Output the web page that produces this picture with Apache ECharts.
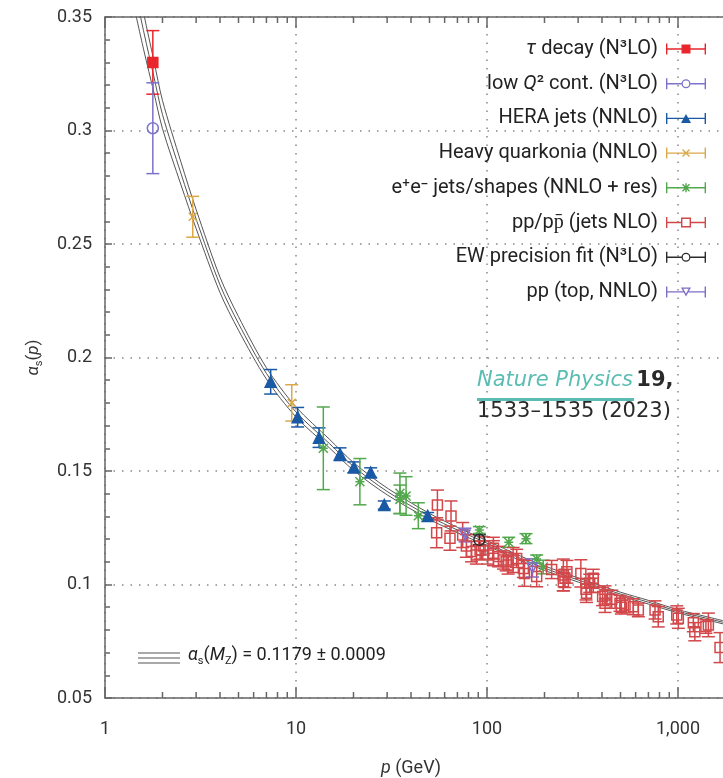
<!DOCTYPE html>
<html>
<head>
<meta charset="utf-8">
<script src="https://cdn.jsdelivr.net/npm/echarts@6/dist/echarts.min.js"></script>
<style>
  html, body { margin: 0; padding: 0; background: #fff; }
  #chart { width: 723px; height: 778px; }
</style>
</head>
<body>
<div id="chart"></div>
<script>
// running coupling curve (central value and band edges)
const curveP  = [1.45, 1.6, 1.8, 2, 2.5, 3, 4, 5, 7, 10, 15, 20, 30, 50, 70, 100, 150, 200, 300, 500, 700, 1000, 1400, 1750];
const curveMid = [0.360, 0.343, 0.324, 0.307, 0.281, 0.261, 0.232, 0.215, 0.193, 0.176, 0.162, 0.152, 0.141, 0.130, 0.1240, 0.1182, 0.1115, 0.1072, 0.1020, 0.0958, 0.0922, 0.0882, 0.0852, 0.0832];
const curveHi  = [0.369, 0.351, 0.331, 0.3132, 0.286, 0.2652, 0.2354, 0.218, 0.1955, 0.1782, 0.1639, 0.1537, 0.1425, 0.1313, 0.1252, 0.1193, 0.1125, 0.1082, 0.1029, 0.0966, 0.0930, 0.0889, 0.0859, 0.0839];
const curveLo  = [0.351, 0.335, 0.317, 0.3008, 0.276, 0.2568, 0.2286, 0.212, 0.1905, 0.1738, 0.1601, 0.1503, 0.1395, 0.1287, 0.1228, 0.1171, 0.1105, 0.1062, 0.1011, 0.0950, 0.0914, 0.0875, 0.0845, 0.0825];

// measurements: scale p (GeV), alpha_s, half error
const tauP = [1.78];
const tauV = [0.330];
const tauE = [0.014];

const lowQP = [1.78];
const lowQV = [0.301];
const lowQE = [0.020];

const heraP = [7.37, 10.2, 13.2, 17.0, 20.1, 24.6, 29.0, 48.9];
const heraV = [0.1893, 0.1737, 0.1647, 0.1574, 0.1516, 0.1493, 0.1350, 0.1302];
const heraE = [0.0054, 0.0043, 0.0043, 0.0028, 0.0024, 0.0021, 0.0018, 0.0015];

const quarkP = [2.88, 9.5];
const quarkV = [0.262, 0.180];
const quarkE = [0.009, 0.008];

const eeP = [13.9, 21.6, 35.0, 35.0, 37.7, 43.7, 91.2, 130, 160, 182, 197];
const eeV = [0.160, 0.1453, 0.1402, 0.1375, 0.139, 0.1303, 0.124, 0.1186, 0.1202, 0.1112, 0.1077];
const eeE = [0.0182, 0.0102, 0.0089, 0.0063, 0.0085, 0.0057, 0.0015, 0.0022, 0.0022, 0.0018, 0.003];

const jetsP = [54.5, 55, 64, 64.8, 74.6, 78, 83, 88, 92, 96, 101, 108, 108, 115, 122, 126, 129, 137, 143, 155, 157, 182, 218,
  251, 251, 256, 262, 310, 330, 332, 345, 360, 360, 403, 415, 415, 450, 497, 505, 528, 583, 620, 758, 788, 985, 1004, 1203, 1225, 1400, 1442, 1660];
const jetsV = [0.1228, 0.135, 0.1204, 0.1302, 0.1218, 0.1170, 0.1145, 0.1130, 0.1152, 0.1170, 0.1130, 0.1160, 0.1138, 0.1123, 0.1108, 0.1100, 0.1086, 0.1108, 0.1115, 0.1071, 0.1049, 0.1035, 0.1066,
  0.1042, 0.1012, 0.1027, 0.1056, 0.1049, 0.0979, 0.0961, 0.1005, 0.1027, 0.1005, 0.0947, 0.0954, 0.0917, 0.0935, 0.0917, 0.0900, 0.0910, 0.0902, 0.0888, 0.0888, 0.0858, 0.0866, 0.0851, 0.0832, 0.0792, 0.0815, 0.0822, 0.0722];
const jetsE = [0.0066, 0.0066, 0.0053, 0.0066, 0.0055, 0.005, 0.0045, 0.004, 0.004, 0.004, 0.004, 0.0048, 0.0055, 0.0045, 0.004, 0.004, 0.004, 0.0055, 0.004, 0.004, 0.0057, 0.0045, 0.004,
  0.007, 0.004, 0.004, 0.005, 0.006, 0.0047, 0.004, 0.004, 0.004, 0.004, 0.004, 0.004, 0.004, 0.004, 0.0035, 0.003, 0.0035, 0.0035, 0.003, 0.004, 0.0045, 0.004, 0.0044, 0.004, 0.004, 0.003, 0.0052, 0.0066];

const ewP = [91.2];
const ewV = [0.1197];
const ewE = [0.0022];

const topP = [76.7, 173];
const topV = [0.1218, 0.1073];
const topE = [0.003, 0.004];

// axis ticks
const minorTicks = [2, 3, 4, 5, 6, 7, 8, 9, 20, 30, 40, 50, 60, 70, 80, 90, 200, 300, 400, 500, 600, 700, 800, 900, 2000];

const FONT = "Roboto";
const AXIS = "#666";

// legend icons: error bar + marker, box 40x11
const CAPS = "M0,0 h1.4 v11 h-1.4 Z M38.6,0 h1.4 v11 h-1.4 Z ";
const BAR = "M0,4.8 h40 v1.4 h-40 Z ";
const splitBar = (a, b) => `M0,4.8 h${a} v1.4 h-${a} Z M${b},4.8 h${40 - b} v1.4 h-${40 - b} Z `;
const XMARK = "M16,2.5 L17,1.5 L24,8.5 L23,9.5 Z M23,1.5 L24,2.5 L17,9.5 L16,8.5 Z ";
const icons = {
  tau: "path://" + CAPS + BAR + "M15.5,1 h9 v9 h-9 Z",
  lowq: "path://" + CAPS + splitBar(15.5, 24.5) + "M15.5,5.5 A4.5,4.5 0 1,1 24.5,5.5 A4.5,4.5 0 1,1 15.5,5.5 Z M16.8,5.5 A3.2,3.2 0 1,0 23.2,5.5 A3.2,3.2 0 1,0 16.8,5.5 Z",
  hera: "path://" + CAPS + BAR + "M20,1 L25,10 L15,10 Z",
  quark: "path://" + CAPS + BAR + XMARK,
  ee: "path://" + CAPS + BAR + XMARK + "M19.3,1 h1.4 v9 h-1.4 Z",
  jets: "path://" + CAPS + splitBar(15, 25) + "M15,0.5 h10 v10 h-10 Z M16.4,1.9 v7.2 h7.2 v-7.2 Z",
  top: "path://" + CAPS + splitBar(17.5, 22.5) + "M15,1 L25,1 L20,10 Z M17.3,2.3 L20,7.3 L22.7,2.3 Z"
};

const groups = [
  { name: "tau", label: "{i|τ} decay (N³LO)", color: "#e8262b", P: tauP, V: tauV, E: tauE,
    symbol: "rect", size: 10, fill: "#e8262b", icon: icons.tau },
  { name: "lowq", label: "low {i|Q}² cont. (N³LO)", color: "#7d72c9", P: lowQP, V: lowQV, E: lowQE,
    symbol: "circle", size: 11, fill: "transparent", icon: icons.lowq },
  { name: "hera", label: "HERA jets (NNLO)", color: "#1a5aa5", P: heraP, V: heraV, E: heraE,
    symbol: "triangle", size: 11, fill: "#1a5aa5", icon: icons.hera },
  { name: "quark", label: "Heavy quarkonia (NNLO)", color: "#dba84a", P: quarkP, V: quarkV, E: quarkE,
    symbol: "path://M0,0 L10,10 M10,0 L0,10", size: 8, fill: "transparent", icon: icons.quark },
  { name: "ee", label: "e⁺e⁻ jets/shapes (NNLO + res)", color: "#52a84c", P: eeP, V: eeV, E: eeE,
    symbol: "path://M0,0 L10,10 M10,0 L0,10 M5,0 L5,10 M0,5 L10,5", size: 9, fill: "transparent", icon: icons.ee },
  { name: "jets", label: "pp/pp̄ (jets NLO)", color: "#d2474a", P: jetsP, V: jetsV, E: jetsE,
    symbol: "rect", size: 10, fill: "transparent", icon: icons.jets },
  { name: "ew", label: "EW precision fit (N³LO)", color: "#2b2b2b", P: ewP, V: ewV, E: ewE,
    symbol: "circle", size: 11, fill: "transparent", icon: icons.lowq },
  { name: "top", label: "pp (top, NNLO)", color: "#7f6dc8", P: topP, V: topV, E: topE,
    symbol: "triangle", rotate: 180, size: 10, fill: "transparent", icon: icons.top }
];

function errorBars(g) {
  return {
    type: "custom",
    name: g.name,
    z: 3,
    silent: true,
    data: g.P.map((p, i) => [p, g.V[i] - g.E[i], g.V[i] + g.E[i]]),
    encode: { x: 0, y: [1, 2] },
    renderItem(params, api) {
      const lo = api.coord([api.value(0), api.value(1)]);
      const hi = api.coord([api.value(0), api.value(2)]);
      const hw = 6.5;
      const style = { stroke: g.color, lineWidth: 1.5, fill: null };
      return {
        type: "group",
        children: [
          { type: "line", shape: { x1: lo[0], y1: lo[1], x2: hi[0], y2: hi[1] }, style },
          { type: "line", shape: { x1: lo[0] - hw, y1: lo[1], x2: lo[0] + hw, y2: lo[1] }, style },
          { type: "line", shape: { x1: hi[0] - hw, y1: hi[1], x2: hi[0] + hw, y2: hi[1] }, style }
        ]
      };
    }
  };
}

function markers(g) {
  return {
    type: "scatter",
    name: g.name,
    z: 4,
    silent: true,
    symbol: g.symbol,
    symbolSize: g.size,
    symbolRotate: g.rotate || 0,
    data: g.P.map((p, i) => [p, g.V[i]]),
    itemStyle: { color: g.fill, borderColor: g.color, borderWidth: 1.5, opacity: 1 }
  };
}

function curveLine(vals) {
  return {
    type: "line",
    z: 2,
    silent: true,
    smooth: 0.3,
    showSymbol: false,
    data: curveP.map((p, i) => [p, vals[i]]),
    lineStyle: { color: "#555", width: 1 }
  };
}

function minorTickSeries() {
  return {
    type: "custom",
    z: 5,
    silent: true,
    clip: false,
    data: minorTicks.map(v => [v]),
    encode: { x: 0 },
    renderItem(params, api) {
      const b = api.coord([api.value(0), 0.05]);
      const t = api.coord([api.value(0), 0.35]);
      const style = { stroke: AXIS, lineWidth: 1.5 };
      return {
        type: "group",
        children: [
          { type: "line", shape: { x1: b[0], y1: b[1], x2: b[0], y2: b[1] - 6 }, style },
          { type: "line", shape: { x1: t[0], y1: t[1], x2: t[0], y2: t[1] + 6 }, style }
        ]
      };
    }
  };
}

const labelMap = {};
groups.forEach(g => { labelMap[g.name] = g.label; });

const chart = echarts.init(document.getElementById("chart"));
const dotted = { color: "#888", type: [1.5, 7], width: 1.5 };

const option = {
  animation: false,
  backgroundColor: "#fff",
  // plot runs past the right edge of the picture, as in the original crop
  grid: { left: 105, right: -146, top: 17, bottom: 80, outerBoundsMode: "none", containLabel: false },
  xAxis: [
    {
      type: "log", logBase: 10, min: 1, max: 10000, position: "bottom",
      axisLine: { lineStyle: { color: AXIS, width: 1.5 } },
      axisTick: { inside: true, length: 11, lineStyle: { color: AXIS, width: 1.5 } },
      axisLabel: { fontFamily: FONT, fontSize: 18, color: "#333", margin: 22,
        formatter: v => Number(v).toLocaleString("en-US") },
      splitLine: { show: true, lineStyle: dotted },
      name: "{i|p} (GeV)", nameLocation: "middle", nameGap: 61,
      nameTextStyle: { fontFamily: FONT, fontSize: 18, color: "#333", padding: [0, 152, 0, 0],
        rich: { i: { fontFamily: FONT, fontSize: 18, fontStyle: "italic", color: "#333" } } }
    },
    {
      type: "log", logBase: 10, min: 1, max: 10000, position: "top",
      axisLine: { show: true, lineStyle: { color: AXIS, width: 1.5 } },
      axisTick: { inside: true, length: 11, lineStyle: { color: AXIS, width: 1.5 } },
      axisLabel: { show: false },
      splitLine: { show: false }
    }
  ],
  yAxis: {
    type: "value", min: 0.05, max: 0.35, interval: 0.05,
    axisLine: { show: true, lineStyle: { color: AXIS, width: 1.5 } },
    axisTick: { inside: true, length: 7, lineStyle: { color: AXIS, width: 1.5 } },
    minorTick: { show: true, splitNumber: 5, length: 5, lineStyle: { color: AXIS, width: 1.5 } },
    axisLabel: { fontFamily: FONT, fontSize: 18, color: "#333", margin: 13 },
    splitLine: { show: true, lineStyle: dotted },
    name: "{i|α}{s|s}({i|p})", nameLocation: "middle", nameGap: 60,
    nameTextStyle: { fontFamily: FONT, fontSize: 17, color: "#333", lineHeight: 22,
      rich: {
        i: { fontFamily: FONT, fontSize: 17, fontStyle: "italic", color: "#333", lineHeight: 22 },
        s: { fontFamily: FONT, fontSize: 11, color: "#333", lineHeight: 11, verticalAlign: "bottom" }
      } }
  },
  legend: {
    orient: "vertical", right: 12, top: 33, align: "right",
    itemWidth: 40, itemHeight: 11, itemGap: 12.7, selectedMode: false,
    textStyle: { fontFamily: FONT, fontSize: 20, color: "#222", lineHeight: 22, padding: [0, 3, 0, 0],
      rich: { i: { fontFamily: FONT, fontSize: 20, fontStyle: "italic", color: "#222", lineHeight: 22 } } },
    formatter: n => labelMap[n],
    data: groups.map(g => ({ name: g.name, icon: g.icon, itemStyle: { color: g.color, borderWidth: 0 } }))
  },
  graphic: [
    {
      type: "text", left: 477, top: 370, z: 10,
      style: {
        text: "{n|Nature Physics} {b|19,}\n{t|1533–1535 (2023)}",
        rich: {
          n: { fontFamily: "DejaVu Sans", fontSize: 21, fontStyle: "italic", fill: "#5bbdb2", lineHeight: 31 },
          b: { fontFamily: "DejaVu Sans", fontSize: 21, fontWeight: "bold", fill: "#2a2a2a", lineHeight: 31 },
          t: { fontFamily: "DejaVu Sans", fontSize: 21, fill: "#2a2a2a", lineHeight: 31 }
        }
      }
    },
    { type: "rect", left: 477, top: 398, z: 10, shape: { width: 157, height: 3 }, style: { fill: "#5bbdb2" } },
    { type: "line", z: 10, shape: { x1: 138, y1: 653, x2: 180, y2: 653 }, style: { stroke: "#555", lineWidth: 1.2 } },
    { type: "line", z: 10, shape: { x1: 138, y1: 658, x2: 180, y2: 658 }, style: { stroke: "#555", lineWidth: 1.2 } },
    { type: "line", z: 10, shape: { x1: 138, y1: 663, x2: 180, y2: 663 }, style: { stroke: "#555", lineWidth: 1.2 } },
    {
      type: "text", left: 188, top: 646, z: 10,
      style: {
        text: "{i|α}{s|s}{t|(}{i|M}{s|Z}{t|) = 0.1179 ± 0.0009}",
        rich: {
          i: { fontFamily: FONT, fontSize: 18, fontStyle: "italic", fill: "#222", lineHeight: 24 },
          t: { fontFamily: FONT, fontSize: 18, fill: "#222", lineHeight: 24 },
          s: { fontFamily: FONT, fontSize: 11, fill: "#222", lineHeight: 11, verticalAlign: "bottom" }
        }
      }
    }
  ],
  series: [
    curveLine(curveHi), curveLine(curveMid), curveLine(curveLo),
    minorTickSeries()
  ]
    .concat(groups.map(errorBars))
    .concat(groups.map(markers))
};

chart.setOption(option);
</script>
</body>
</html>
